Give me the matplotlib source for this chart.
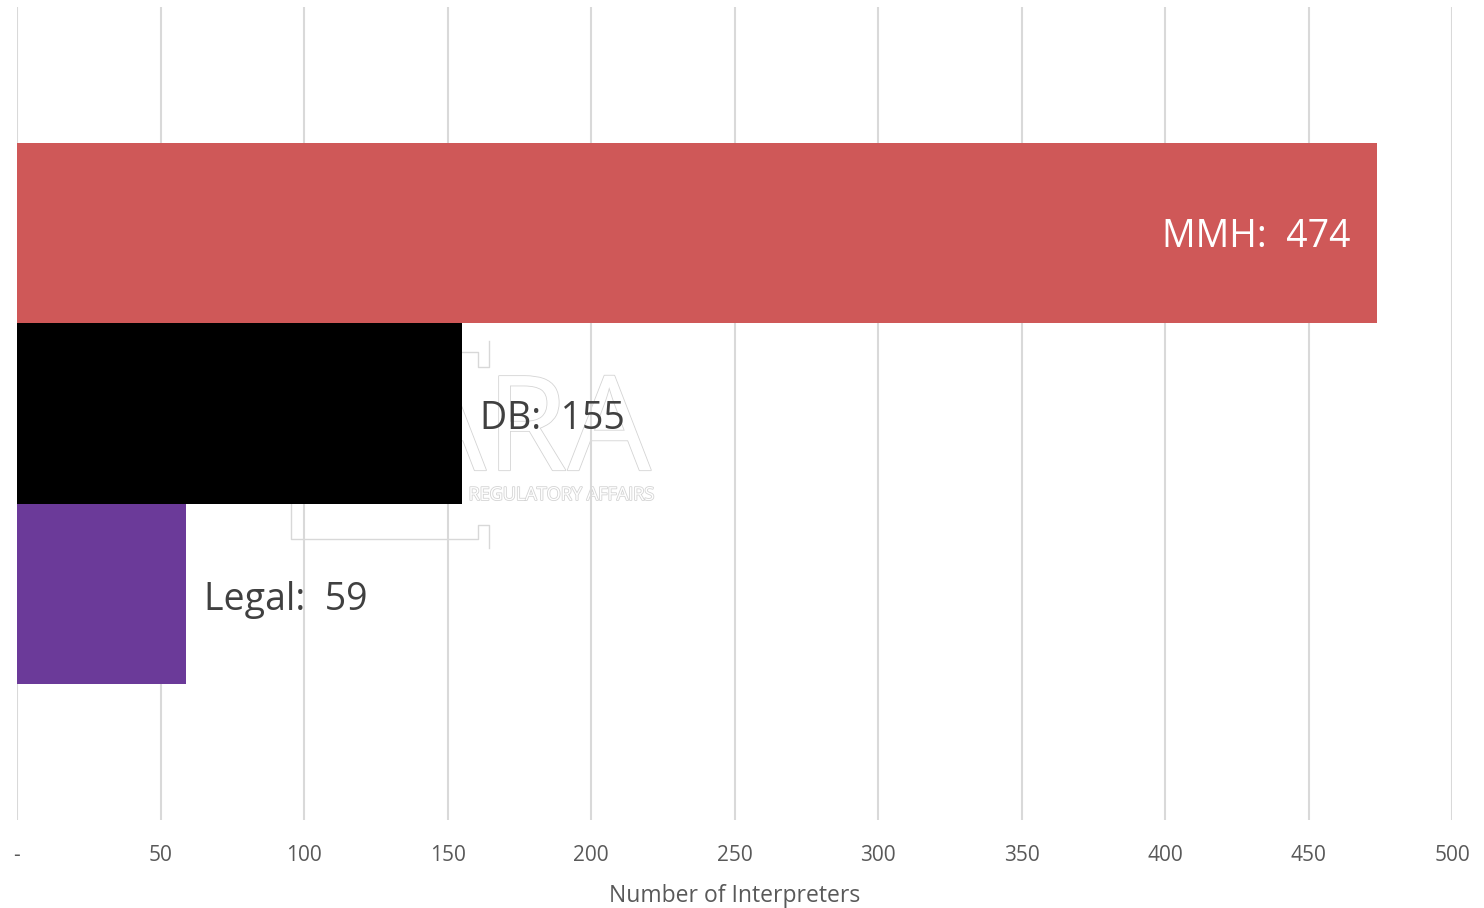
import matplotlib.pyplot as plt
import matplotlib.patheffects as pe

categories = ["Legal", "DB", "MMH"]
values = [59, 155, 474]
colors = ["#6B3A99", "#000000", "#CF5858"]
label_colors = ["#404040", "#404040", "#FFFFFF"]
xticks = [0, 50, 100, 150, 200, 250, 300, 350, 400, 450, 500]
xticklabels = ["-"] + [str(t) for t in xticks[1:]]

plt.rcParams["font.family"] = ["Open Sans", "DejaVu Sans"]

W, H = 1484, 908
fig = plt.figure(figsize=(W / 100, H / 100), dpi=100)
ax = fig.add_axes([17 / W, 88 / H, 1435 / W, 813 / H])


def fx(px):
    return px / W


def fy(py):
    return 1 - py / H


# faint watermark behind the bars
wm = dict(color="white", zorder=0.5,
          path_effects=[pe.withStroke(linewidth=1.2, foreground="#d4d4d4")])
fig.text(fx(527), fy(436), "ARA", fontsize=95, ha="center", va="center", **wm)
fig.text(fx(561), fy(495), "REGULATORY AFFAIRS", fontsize=13, ha="center",
         va="center", **wm)
line_kw = dict(transform=fig.transFigure, color="#d8d8d8", lw=1, zorder=0.5)
fig.lines.append(plt.Line2D([fx(291), fx(291), fx(478), fx(478), fx(489), fx(489)],
                            [fy(485), fy(539), fy(539), fy(525), fy(525), fy(548)], **line_kw))
fig.lines.append(plt.Line2D([fx(462), fx(478), fx(478), fx(489), fx(489)],
                            [fy(352), fy(352), fy(367), fy(367), fy(341)], **line_kw))
ax.set_zorder(1)
ax.patch.set_alpha(0)

ypos = list(range(len(categories)))
ax.barh(ypos, values, height=1.0, color=colors, zorder=2)

for y, cat, v, lc in zip(ypos, categories, values, label_colors):
    txt = f"{cat}:  {v}"
    if v > 300:
        ax.annotate(txt, (v, y), xytext=(-27, -4), textcoords="offset pixels",
                    ha="right", va="center", fontsize=27, color=lc, zorder=3)
    else:
        ax.annotate(txt, (v, y), xytext=(18, -6), textcoords="offset pixels",
                    ha="left", va="center", fontsize=27, color=lc, zorder=3)

ax.set_xlim(0, 500)
ax.set_ylim(-1.252, 3.252)
ax.set_xticks(xticks)
ax.set_xticklabels(xticklabels)
ax.set_yticks([])
ax.tick_params(axis="x", length=0, pad=18, labelsize=15, labelcolor="#595959")
ax.grid(axis="x", color="#d9d9d9", linewidth=1.5, zorder=0)
ax.set_axisbelow(True)
for s in ax.spines.values():
    s.set_visible(False)
ax.set_xlabel("Number of Interpreters", fontsize=16.5, color="#595959", labelpad=13)

fig.savefig("out.png", dpi=100)
